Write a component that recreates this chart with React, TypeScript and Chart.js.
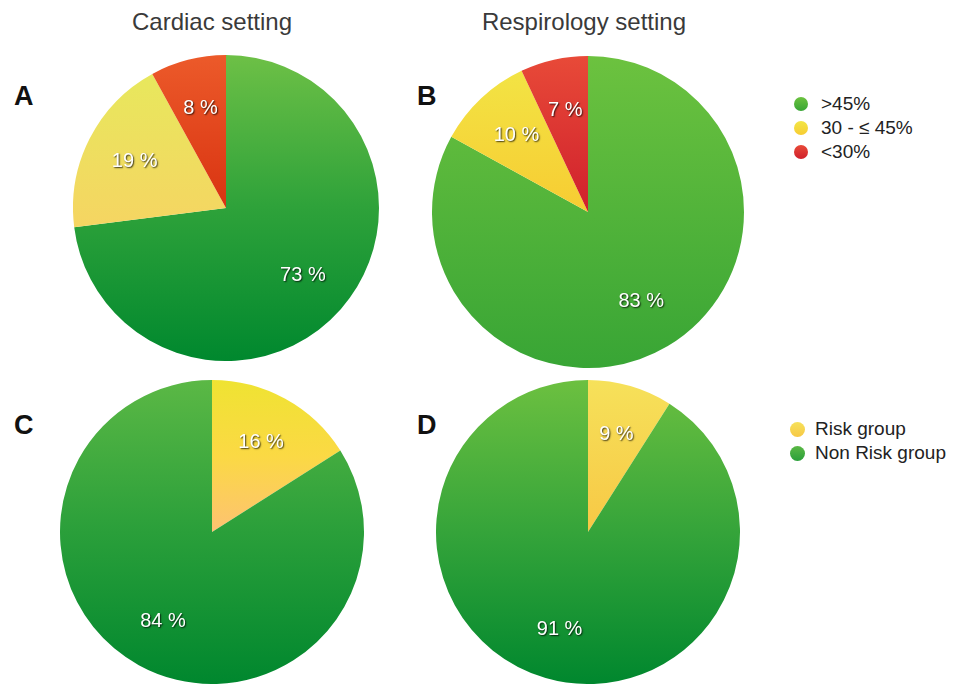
import React, { useEffect, useRef } from "react";
import { Chart, registerables } from "chart.js";

Chart.register(...registerables);

// Ejection-fraction groups and risk groups, share of patients (%)
const efLabels = [">45%", "30 - ≤ 45%", "<30%"];
const riskLabels = ["Risk group", "Non Risk group"];

const cardiacEf = [73, 19, 8];
const respiroEf = [83, 10, 7];
const cardiacRisk = [16, 84];
const respiroRisk = [9, 91];

const settingTitles = ["Cardiac setting", "Respirology setting"];

type Stops = [number, string][];

// vertical gradient stops per slice (0 = top of pie, 1 = bottom)
const palA: Stops[] = [
  [[0, "#6dc046"], [0.5, "#2ea23a"], [1, "#00882e"]],
  [[0, "#e6ea5c"], [0.56, "#f5d562"], [1, "#fcc468"]],
  [[0, "#ec5a2a"], [0.5, "#d93311"], [1, "#c91a00"]],
];
const palB: Stops[] = [
  [[0, "#6cc23f"], [1, "#38a535"]],
  [[0, "#f2e646"], [0.5, "#f7cc32"], [1, "#f8b820"]],
  [[0, "#e84a38"], [0.5, "#d0202c"], [1, "#c01020"]],
];
const palC: Stops[] = [
  [[0, "#efe332"], [0.25, "#fbd944"], [0.5, "#fdc272"], [1, "#ffb080"]],
  [[0, "#5bb845"], [0.5, "#2a9f3a"], [1, "#00872e"]],
];
const palD: Stops[] = [
  [[0, "#f6e15a"], [0.5, "#f7c845"], [1, "#f8b830"]],
  [[0, "#6cc040"], [0.5, "#35a43a"], [1, "#00872e"]],
];

const FONT = "'Liberation Sans', Arial, Helvetica, sans-serif";

const sliceLabels = {
  id: "sliceLabels",
  afterDatasetsDraw(chart: any) {
    const ctx = chart.ctx;
    const meta = chart.getDatasetMeta(0);
    const data = chart.data.datasets[0].data as number[];
    ctx.save();
    ctx.font = `20px ${FONT}`;
    ctx.textAlign = "center";
    ctx.textBaseline = "middle";
    ctx.shadowColor = "rgba(0,0,0,0.75)";
    ctx.shadowOffsetX = 1;
    ctx.shadowOffsetY = 1;
    ctx.shadowBlur = 1.5;
    ctx.fillStyle = "#ffffff";
    meta.data.forEach((arc: any, i: number) => {
      const p = arc.getProps(["x", "y", "startAngle", "endAngle", "outerRadius"], true);
      const mid = (p.startAngle + p.endAngle) / 2;
      const r = p.outerRadius * 0.67;
      ctx.fillText(`${data[i]} %`, p.x + Math.cos(mid) * r, p.y + Math.sin(mid) * r);
    });
    ctx.restore();
  },
};

function PieCanvas(props: {
  values: number[];
  labels: string[];
  palette: Stops[];
  left: number;
  top: number;
  size: number;
}) {
  const ref = useRef<HTMLCanvasElement>(null);
  useEffect(() => {
    if (!ref.current) return;
    const chart = new Chart(ref.current, {
      type: "pie",
      data: {
        labels: props.labels,
        datasets: [
          {
            data: props.values,
            borderWidth: 0,
            backgroundColor: (c: any) => {
              const area = c.chart.chartArea;
              const stops = props.palette[c.dataIndex];
              if (!area) return stops[0][1];
              const g = c.chart.ctx.createLinearGradient(0, area.top, 0, area.bottom);
              stops.forEach(([o, col]) => g.addColorStop(o, col));
              return g;
            },
          },
        ],
      },
      options: {
        animation: false,
        responsive: false,
        maintainAspectRatio: false,
        layout: { padding: 0 },
        plugins: {
          legend: { display: false },
          tooltip: { enabled: false },
        },
      },
      plugins: [sliceLabels],
    });
    return () => chart.destroy();
  }, []);
  return (
    <canvas
      ref={ref}
      width={props.size}
      height={props.size}
      style={{ position: "absolute", left: props.left, top: props.top, width: props.size, height: props.size }}
    />
  );
}

function Legend(props: { labels: string[]; palette: Stops[]; order: number[]; left: number; top: number; gap: number; dot: number; space: number }) {
  return (
    <div style={{ position: "absolute", left: props.left, top: props.top, fontFamily: FONT, fontSize: 19, color: "#222" }}>
      {props.order.map((idx, k) => {
        const stops = props.palette[idx];
        const grad = `linear-gradient(to bottom, ${stops[0][1]}, ${stops[Math.min(1, stops.length - 1)][1]})`;
        return (
          <div key={k} style={{ position: "absolute", top: k * props.gap, left: 0, height: 22, display: "flex", alignItems: "center", whiteSpace: "nowrap" }}>
            <span style={{ display: "inline-block", width: props.dot, height: props.dot, borderRadius: "50%", background: grad, marginRight: props.space }} />
            <span>{props.labels[idx]}</span>
          </div>
        );
      })}
    </div>
  );
}

const letterStyle: React.CSSProperties = {
  position: "absolute",
  fontFamily: FONT,
  fontWeight: 700,
  fontSize: 27,
  color: "#111",
  lineHeight: 1,
};

const titleStyle: React.CSSProperties = {
  position: "absolute",
  fontFamily: FONT,
  fontSize: 24,
  color: "#3a3a3a",
  lineHeight: 1,
  textAlign: "center",
  width: 300,
};

export default function App() {
  return (
    <div style={{ position: "absolute", left: 0, top: 0, width: 957, height: 684, overflow: "hidden", background: "#fff" }}>
      <div style={{ ...titleStyle, left: 212 - 150, top: 10 }}>{settingTitles[0]}</div>
      <div style={{ ...titleStyle, left: 584 - 150, top: 10 }}>{settingTitles[1]}</div>

      <div style={{ ...letterStyle, left: 14, top: 83 }}>A</div>
      <div style={{ ...letterStyle, left: 417, top: 83 }}>B</div>
      <div style={{ ...letterStyle, left: 14, top: 412 }}>C</div>
      <div style={{ ...letterStyle, left: 417, top: 412 }}>D</div>

      <PieCanvas values={cardiacEf} labels={efLabels} palette={palA} left={226 - 153} top={208 - 153} size={306} />
      <PieCanvas values={respiroEf} labels={efLabels} palette={palB} left={588 - 156} top={212 - 156} size={312} />
      <PieCanvas values={cardiacRisk} labels={riskLabels} palette={palC} left={212 - 152} top={532 - 152} size={304} />
      <PieCanvas values={respiroRisk} labels={riskLabels} palette={palD} left={588 - 152} top={532 - 152} size={304} />

      <Legend labels={efLabels} palette={palB} order={[0, 1, 2]} left={794} top={93} gap={24} dot={14} space={13} />
      <Legend labels={riskLabels} palette={[palD[0], palC[1]]} order={[0, 1]} left={790} top={418} gap={24} dot={15} space={10} />
    </div>
  );
}
